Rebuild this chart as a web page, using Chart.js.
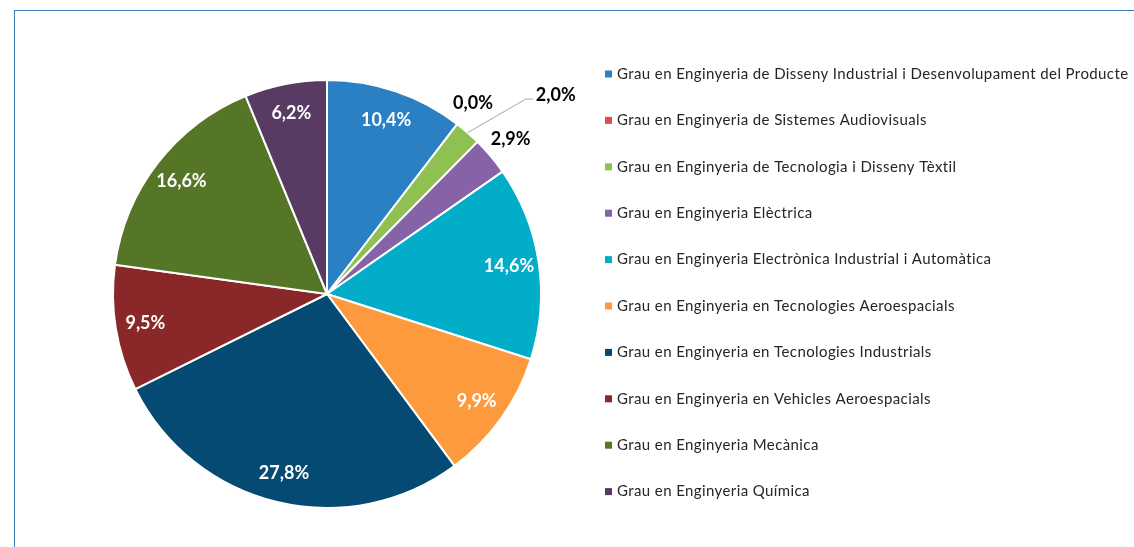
<!DOCTYPE html>
<html>
<head>
<meta charset="utf-8">
<script src="https://cdn.jsdelivr.net/npm/chart.js@4/dist/chart.umd.min.js"></script>
<style>
  html, body { margin: 0; padding: 0; background: #ffffff; overflow: hidden; }
  #wrap { position: relative; width: 1134px; height: 547px; }
  #frame { position: absolute; left: 14px; top: 10px; width: 1200px; height: 600px; border-top: 1px solid #3f7db5; border-left: 1px solid #3f7db5; box-sizing: border-box; }
  canvas { position: absolute; left: 0; top: 0; }
</style>
</head>
<body>
<div id="wrap">
  <div id="frame"></div>
  <canvas id="c" width="1134" height="547"></canvas>
</div>
<script>
// ---- data ----
const categories = [
  "Grau en Enginyeria de Disseny Industrial i Desenvolupament del Producte",
  "Grau en Enginyeria de Sistemes Audiovisuals",
  "Grau en Enginyeria de Tecnologia i Disseny Tèxtil",
  "Grau en Enginyeria Elèctrica",
  "Grau en Enginyeria Electrònica Industrial i Automàtica",
  "Grau en Enginyeria en Tecnologies Aeroespacials",
  "Grau en Enginyeria en Tecnologies Industrials",
  "Grau en Enginyeria en Vehicles Aeroespacials",
  "Grau en Enginyeria Mecànica",
  "Grau en Enginyeria Química"
];
const percentages = [10.4, 0.0, 2.0, 2.9, 14.6, 9.9, 27.8, 9.5, 16.6, 6.2];
const sliceColors = ["#2b80c4", "#e04a4d", "#8fc151", "#8663a7", "#02adc9", "#fd9a3e", "#054a72", "#8a2728", "#557627", "#573b63"];

function fmt(v) { return v.toFixed(1).replace('.', ',') + '%'; }

const labelPlugin = {
  id: 'sliceLabels',
  afterDatasetsDraw(chart) {
    const ctx = chart.ctx;
    const meta = chart.getDatasetMeta(0);
    const nudges = { 2: { dx: 71, dy: -18, leader: true } };
    ctx.save();
    ctx.font = 'bold 18px Lato';
    ctx.textAlign = 'center';
    ctx.textBaseline = 'middle';
    meta.data.forEach((arc, i) => {
      const p = arc.getProps(['x', 'y', 'startAngle', 'endAngle', 'outerRadius'], true);
      const mid = (p.startAngle + p.endAngle) / 2;
      const v = percentages[i];
      const txt = fmt(v);
      if (v >= 5) {
        const r = p.outerRadius * 0.86;
        ctx.fillStyle = '#ffffff';
        ctx.fillText(txt, p.x + Math.cos(mid) * r, p.y + Math.sin(mid) * r);
      } else {
        const r = p.outerRadius + 26;
        let lx = p.x + Math.cos(mid) * r;
        let ly = p.y + Math.sin(mid) * r;
        const n = nudges[i];
        if (n) {
          lx += n.dx; ly += n.dy;
          if (n.leader) {
            const w = ctx.measureText(txt).width;
            const left = lx - w / 2;
            ctx.strokeStyle = '#a6a6a6';
            ctx.lineWidth = 1;
            ctx.beginPath();
            ctx.moveTo(p.x + Math.cos(mid) * p.outerRadius, p.y + Math.sin(mid) * p.outerRadius);
            ctx.lineTo(left - 10, ly + 4);
            ctx.lineTo(left - 3, ly + 4);
            ctx.stroke();
          }
        }
        ctx.fillStyle = '#000000';
        ctx.fillText(txt, lx, ly);
      }
    });
    ctx.restore();
  }
};

const legendPlugin = {
  id: 'sideLegend',
  afterDraw(chart) {
    const ctx = chart.ctx;
    const labels = chart.data.labels;
    const colors = chart.data.datasets[0].backgroundColor;
    ctx.save();
    ctx.font = '15px Lato';
    ctx.letterSpacing = '0.4px';
    ctx.textAlign = 'left';
    ctx.textBaseline = 'middle';
    labels.forEach((lab, i) => {
      const y = 74 + i * 46.4;
      ctx.fillStyle = colors[i];
      ctx.fillRect(605, y - 3.5, 7, 7);
      ctx.fillStyle = '#262626';
      ctx.fillText(lab, 617, y);
    });
    ctx.restore();
  }
};

new Chart(document.getElementById('c'), {
  type: 'pie',
  data: {
    labels: categories,
    datasets: [{
      data: percentages,
      backgroundColor: sliceColors,
      borderColor: '#ffffff',
      borderWidth: 2
    }]
  },
  options: {
    responsive: false,
    animation: false,
    layout: { padding: { left: 112, right: 592, top: 79, bottom: 38 } },
    plugins: {
      legend: { display: false },
      tooltip: { enabled: false }
    }
  },
  plugins: [labelPlugin, legendPlugin]
});
</script>
</body>
</html>
